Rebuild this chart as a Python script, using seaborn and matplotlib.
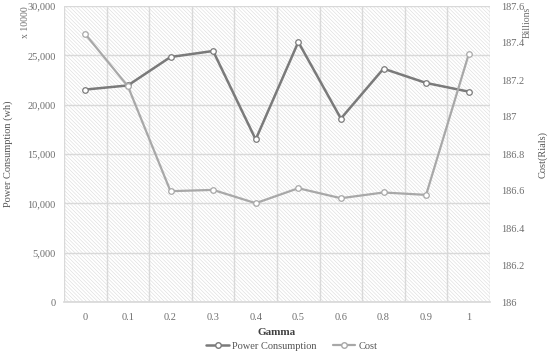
import pandas as pd
import seaborn as sns
import matplotlib
matplotlib.use("Agg")
import matplotlib.pyplot as plt
from matplotlib.lines import Line2D

# ---------------------------
# Data
# ---------------------------
gamma = ["0", "0.1", "0.2", "0.3", "0.4", "0.5", "0.6", "0.8", "0.9", "1"]
power = [21530, 21950, 24830, 25440, 16470, 26350, 18590, 23650, 22200, 21320]
cost = [187.448, 187.166, 186.599, 186.606, 186.534, 186.615, 186.561, 186.592, 186.579, 187.339]

df = pd.DataFrame({"Gamma": gamma, "Power": power, "Cost": cost})

sns.set_theme(style="white")
plt.rcParams["font.family"] = ["Liberation Serif", "DejaVu Serif"]
plt.rcParams["hatch.linewidth"] = 0.35
plt.rcParams["hatch.color"] = "#d6d6d6"

power_color = "#7a7a7a"
cost_color = "#a8a8a8"
tick_color = "#6e6e6e"

fig, ax = plt.subplots(figsize=(5.5, 3.58), dpi=100)
fig.subplots_adjust(left=64 / 550, right=490 / 550, top=1 - 6 / 358, bottom=1 - 302 / 358)

# hatched background
ax.patch.set_facecolor("white")
ax.patch.set_hatch("\\" * 9)
ax.patch.set_edgecolor("#d6d6d6")
ax.patch.set_linewidth(0)

sns.lineplot(data=df, x="Gamma", y="Power", ax=ax, color=power_color, lw=1.8,
             marker="o", markersize=4, markerfacecolor="white",
             markeredgecolor=power_color, markeredgewidth=0.9, zorder=3)

ax2 = ax.twinx()
sns.lineplot(data=df, x="Gamma", y="Cost", ax=ax2, color=cost_color, lw=1.6,
             marker="o", markersize=4, markerfacecolor="white",
             markeredgecolor=cost_color, markeredgewidth=0.9, zorder=3)

ax.set_xlim(-0.5, len(gamma) - 0.5)
ax.set_ylim(0, 30000)
ax.set_yticks(range(0, 30001, 5000))
ax.set_yticklabels([f"{v:,}" for v in range(0, 30001, 5000)])
ax2.set_ylim(186, 187.6)
ax2.set_yticks([186, 186.2, 186.4, 186.6, 186.8, 187, 187.2, 187.4, 187.6])
ax2.set_yticklabels(["186", "186.2", "186.4", "186.6", "186.8", "187", "187.2", "187.4", "187.6"])

# grid: horizontal at ticks, vertical between categories
ax.set_xticks(range(len(gamma)))
ax.set_xticklabels(gamma)
ax.set_xticks([i + 0.5 for i in range(-1, len(gamma))], minor=True)
ax.grid(axis="y", color="#d9d9d9", lw=1)
ax.grid(axis="x", which="minor", color="#d9d9d9", lw=1)
ax.grid(axis="x", which="major", visible=False)
ax.set_axisbelow(True)

for a in (ax, ax2):
    for s in a.spines.values():
        s.set_visible(False)
    a.tick_params(axis="both", which="both", length=0, labelsize=7.5, colors=tick_color)
ax.tick_params(axis="y", pad=6)
ax.tick_params(axis="x", pad=8)
ax2.tick_params(axis="y", pad=8)
ax.spines["bottom"].set_visible(True)
ax.spines["bottom"].set_color("#d9d9d9")

ax.set_xlabel("Gamma", fontsize=8, fontweight="bold", color="#404040", labelpad=4)
ax.set_ylabel("Power Consumption (wh)", fontsize=7.5, color="#555555", va="center")
ax.yaxis.set_label_coords((8 - 64) / 426, 0.5)
ax2.set_ylabel("Cost(Rials)", fontsize=7.5, color="#555555", va="center")
ax2.yaxis.set_label_coords((543 - 64) / 426, 0.5)

fig.text(25 / 550, 1 - 22 / 358, "x 10000", rotation=90, fontsize=7,
         color="#6e6e6e", ha="center", va="center")
fig.text(527 / 550, 1 - 22 / 358, "Billions", rotation=90, fontsize=7,
         color="#6e6e6e", ha="center", va="center")

if ax.get_legend():
    ax.get_legend().remove()
handles = [
    Line2D([], [], color=power_color, lw=1.8, marker="o", markersize=4,
           markerfacecolor="white", markeredgecolor=power_color),
    Line2D([], [], color=cost_color, lw=1.6, marker="o", markersize=4,
           markerfacecolor="white", markeredgecolor=cost_color),
]
fig.legend(handles, ["Power Consumption", "Cost"], loc="center",
           bbox_to_anchor=(292 / 550, 1 - 346 / 358), ncol=2, frameon=False,
           fontsize=7.5, handlelength=2.2, handletextpad=0.3, columnspacing=1.5,
           labelcolor="#555555")

plt.savefig("out.png", dpi=100)
plt.close()
